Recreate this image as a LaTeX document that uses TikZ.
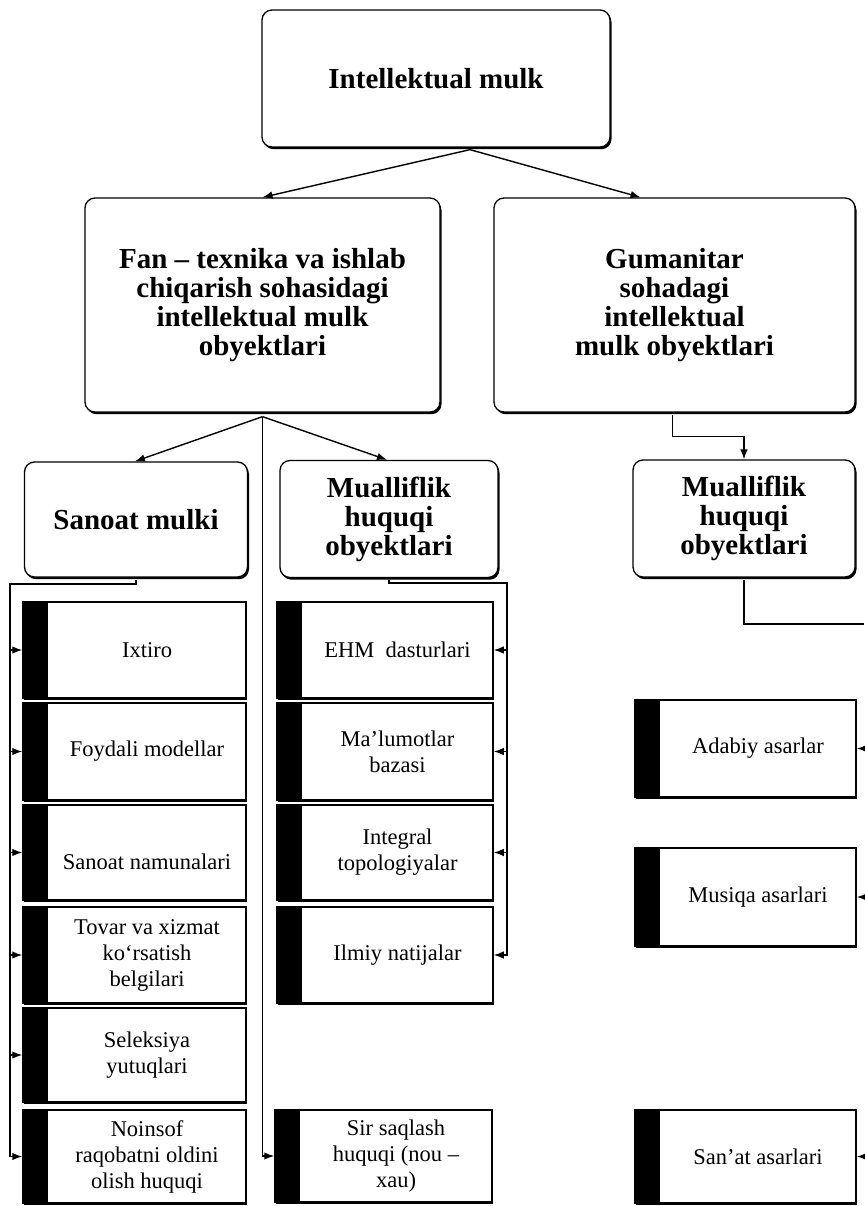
\documentclass[tikz,border=0pt]{standalone}
\usepackage{fontspec}
\setmainfont{Liberation Serif}
\usetikzlibrary{arrows.meta,shadows}
\newcommand\leafnode[6]{%
  \node[lbox, minimum width={#3-#2}, minimum height={#5-#4}] (#1) at ({(#2+#3)/2},{(#4+#5)/2}) {};
  \node[ltext] (#1t) at ([xshift=12.5pt]#1.center) {#6};}
\begin{document}
\begin{tikzpicture}[x=1pt,y=-1pt,
  hbox/.style={draw, line width=1.3pt, rounded corners=10pt, align=center, inner sep=0pt,
    font=\fontsize{29}{29}\selectfont\bfseries, fill=white,
    drop shadow={shadow xshift=1.5pt, shadow yshift=-2.2pt, opacity=1, fill=black}},
  lbox/.style={draw, line width=1.5pt, inner sep=0pt, fill=white,
    drop shadow={shadow xshift=1pt, shadow yshift=-1.5pt, opacity=1, fill=black},
    path picture={\fill[black] (path picture bounding box.north west) rectangle ([xshift=25pt]path picture bounding box.south west);}},
  ltext/.style={align=center, inner sep=0pt, font=\fontsize{22.5}{26}\selectfont},
  conn/.style={line width=1.4pt},
  arr/.style={conn, -{Latex[length=10pt,width=7.5pt]}}
]
\useasboundingbox[fill=white] (0,0) rectangle (864,1206);

% header boxes
\node[hbox, minimum width=348pt, minimum height=137pt] (top) at (436,78.5) {Intellektual mulk};
\node[hbox, minimum width=355pt, minimum height=214pt] (fan) at (262.5,305)
  {Fan -- texnika va ishlab\\chiqarish sohasidagi\\intellektual mulk\\obyektlari};
\node[hbox, minimum width=361pt, minimum height=214pt] (gum) at (674.5,305)
  {Gumanitar\\sohadagi\\intellektual\\mulk obyektlari};
\node[hbox, minimum width=223pt, minimum height=115pt] (san) at (136,519.5) {Sanoat mulki};
\node[hbox, minimum width=218pt, minimum height=117pt] (mua) at (389,519) {Mualliflik\\huquqi\\obyektlari};
\node[hbox, minimum width=222pt, minimum height=117pt] (mub) at (744,518.5) {Mualliflik\\huquqi\\obyektlari};

% left column
\leafnode{ixt}{23}{246}{602}{698}{Ixtiro}
\leafnode{foy}{23}{246}{703}{800}{Foydali modellar}
\node[lbox, minimum width=223pt, minimum height=95pt] (snm) at (134.5,852.5) {};
\node[ltext] (snmt) at ([xshift=12.5pt,yshift=-9pt]snm.center) {Sanoat namunalari};
\leafnode{tov}{23}{246}{907}{1003}{Tovar va xizmat\\ko‘rsatish\\belgilari}
\leafnode{sel}{23}{246}{1008}{1102}{Seleksiya\\yutuqlari}
\leafnode{noi}{23}{246}{1110}{1203}{Noinsof\\raqobatni oldini\\olish huquqi}

% middle column
\leafnode{ehm}{277}{493}{602}{698}{EHM\ \ dasturlari}
\leafnode{mal}{277}{493}{703}{800}{Ma’lumotlar\\bazasi}
\leafnode{int}{277}{493}{805}{900}{Integral\\topologiyalar}
\leafnode{ilm}{277}{493}{907}{1003}{Ilmiy natijalar}
\leafnode{sir}{275}{492}{1110}{1202}{Sir saqlash\\huquqi (nou --\\xau)}

% right column
\leafnode{ada}{635}{856}{700}{797}{Adabiy asarlar}
\leafnode{mus}{635}{856}{848}{946}{Musiqa asarlari}
\leafnode{sat}{635}{856}{1110}{1203}{San’at asarlari}

% top connectors
\coordinate (ts) at ([xshift=34pt,yshift=-2pt]top.south);
\draw[arr] (ts) -- (fan.north);
\draw[arr] (ts) -- ([xshift=-34pt]gum.north);

% fan connectors
\coordinate (fs) at ([yshift=-4pt]fan.south);
\draw[arr] (fs) -- ([xshift=-1pt]san.north);
\draw[arr] (fs) -- ([xshift=-2pt]mua.north);
\draw[arr] (fs) |- (sir.west);

% left bus
\coordinate (lb) at (10,584);
\draw[arr] ([yshift=-2pt]san.south) |- (lb) |- (noi.west);
\foreach \n in {ixt,foy,snm,tov,sel} \draw[arr] (lb |- \n.west) -- (\n.west);

% middle bus
\coordinate (mb) at (507,583);
\draw[arr] ([yshift=-2pt]mua.south) |- (mb) |- (ilm.east);
\foreach \n in {ehm,mal,int} \draw[arr] (mb |- \n.east) -- (\n.east);

% gumanitar branch
\draw[arr] ([xshift=-2pt,yshift=-2pt]gum.south) -- ++(0,22) -| (mub.north);
\coordinate (re) at (864,624);
\draw[conn] ([yshift=-2pt]mub.south) |- (re);
\foreach \n in {ada,mus,sat} \draw[arr] (re |- \n.east) -- (\n.east);
\end{tikzpicture}
\end{document}
